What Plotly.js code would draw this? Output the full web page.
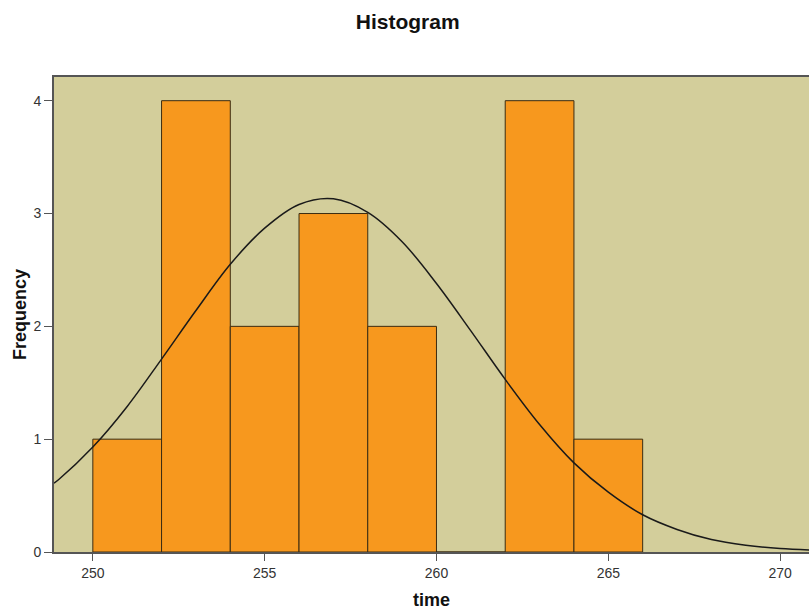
<!DOCTYPE html>
<html>
<head>
<meta charset="utf-8">
<script src="https://cdn.plot.ly/plotly-3.0.1.min.js"></script>
<style>html,body{margin:0;padding:0;background:#fff;}#chart{width:809px;height:610px;}</style>
</head>
<body>
<div id="chart"></div>
<script>
// Histogram bins (centres) and frequencies
var binCenters = [251, 253, 255, 257, 259, 261, 263, 265];
var frequencies = [1, 4, 2, 3, 2, 0, 4, 1];

// Normal curve
var curveX = [248.87, 249, 250, 251, 252, 253, 254, 255, 256, 257, 258, 259, 260, 261, 262, 263, 264, 265, 266, 267, 268, 269, 270, 271];
var curveY = [0.61, 0.64, 0.93, 1.29, 1.71, 2.14, 2.55, 2.87, 3.08, 3.13, 3.01, 2.75, 2.38, 1.96, 1.53, 1.13, 0.79, 0.53, 0.33, 0.20, 0.11, 0.06, 0.03, 0.015];

var xTicks = [250, 255, 260, 265, 270];
var yTicks = [0, 1, 2, 3, 4];

var traces = [
  {
    type: 'bar',
    x: binCenters,
    y: frequencies,
    width: 2,
    marker: {color: '#F7981E', line: {color: '#3b2c12', width: 1}},
    hoverinfo: 'x+y'
  },
  {
    type: 'scatter',
    mode: 'lines',
    x: curveX,
    y: curveY,
    line: {color: '#1a1a1a', width: 1.5, shape: 'spline', smoothing: 1},
    hoverinfo: 'skip'
  }
];

var layout = {
  width: 809,
  height: 610,
  margin: {l: 54, r: 0, t: 77, b: 58, pad: 0},
  paper_bgcolor: '#ffffff',
  plot_bgcolor: '#D3CE9B',
  showlegend: false,
  bargap: 0,
  font: {family: 'Liberation Sans, Arial, sans-serif', color: '#333333', size: 14},
  title: {
    text: '<b>Histogram</b>',
    font: {family: 'Liberation Sans, Arial, sans-serif', size: 21, color: '#111111'},
    xref: 'container', x: 0.504, xanchor: 'center',
    yref: 'container', y: 0.964, yanchor: 'middle'
  },
  xaxis: {
    range: [248.87, 270.84],
    tickvals: xTicks,
    ticktext: xTicks.map(String),
    ticks: 'outside', ticklen: 7, tickwidth: 1, tickcolor: '#555555',
    showgrid: false, zeroline: false,
    showline: true, linecolor: '#555555', linewidth: 2, mirror: true,
    tickfont: {size: 14, color: '#333333'},
    title: {text: '<b>time</b>', font: {size: 18, color: '#111111'}, standoff: 15}
  },
  yaxis: {
    range: [0, 4.21],
    tickvals: yTicks,
    ticktext: yTicks.map(String),
    ticks: 'outside', ticklen: 8, tickwidth: 1, tickcolor: '#555555',
    showgrid: false, zeroline: false,
    showline: true, linecolor: '#555555', linewidth: 2,
    tickfont: {size: 14, color: '#333333'},
    title: {text: '<b>Frequency</b>', font: {size: 18, color: '#111111'}, standoff: 2}
  }
};

Plotly.newPlot('chart', traces, layout, {displayModeBar: false, staticPlot: true});
</script>
</body>
</html>
